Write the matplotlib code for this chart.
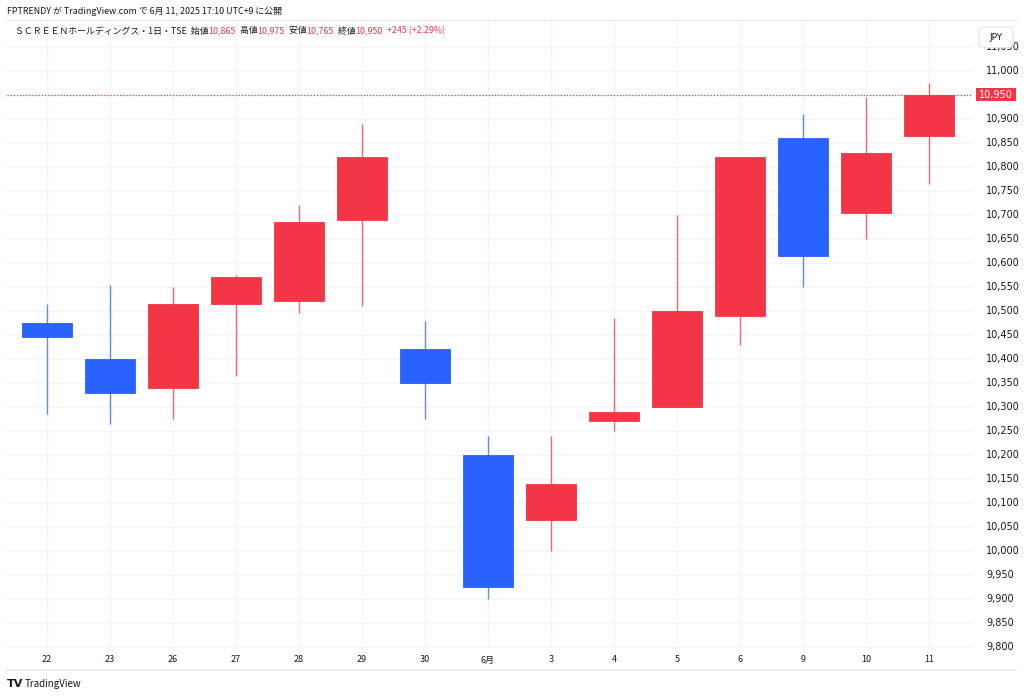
import numpy as np
import matplotlib.pyplot as plt
from matplotlib.patches import Rectangle, FancyBboxPatch

plt.rcParams['font.family'] = ['Noto Sans CJK JP', 'DejaVu Sans']

# daily candles, SCREEN Holdings (TSE)
dates = ['22', '23', '26', '27', '28', '29', '30', '6月', '3', '4', '5', '6', '9', '10', '11']
opens = [10475, 10400, 10340, 10515, 10520, 10690, 10420, 10200, 10065, 10270, 10300, 10490, 10860, 10705, 10865]
highs = [10515, 10555, 10550, 10575, 10720, 10890, 10480, 10240, 10240, 10485, 10700, 10820, 10910, 10945, 10975]
lows = [10285, 10265, 10275, 10365, 10495, 10510, 10275, 9900, 10000, 10250, 10300, 10430, 10550, 10650, 10765]
closes = [10445, 10330, 10515, 10570, 10685, 10820, 10350, 9925, 10140, 10290, 10500, 10820, 10615, 10830, 10950]

price_ticks = np.arange(9800, 11051, 50)

up_col = '#F23645'
dn_col = '#2962FF'
grid_col = '#F3F3F5'
text_col = '#131722'

W, H = 1024, 697
fig = plt.figure(figsize=(W / 100, H / 100), dpi=100)

# main pane in pixel coords: x 7..973, y 20..648
ax = fig.add_axes([7 / W, 1 - 648 / H, (973 - 7) / W, (648 - 20) / H])
ax.set_xlim(-0.635, 14.70)
ax.set_ylim(9798, 11106)

x = np.arange(len(dates))
for i in x:
    o, h, l, c = opens[i], highs[i], lows[i], closes[i]
    col = up_col if c >= o else dn_col
    ax.vlines(i, l, h, color=col, lw=1, alpha=0.75, zorder=3)
    ax.add_patch(Rectangle((i - 0.395, min(o, c)), 0.79, abs(c - o),
                           facecolor=col, edgecolor=col, lw=0.6, zorder=4))

ax.set_yticks(price_ticks)
ax.set_xticks(x)
ax.grid(True, color=grid_col, lw=0.8, zorder=0)
ax.tick_params(length=0, labelleft=False, labelbottom=False)
for s in ax.spines.values():
    s.set_visible(False)

# last price line
ax.axhline(closes[-1], color=up_col, lw=0.9, ls=(0, (1, 1.5)), zorder=2)

# price axis labels
yl = ax.transData.transform((0, closes[-1]))[1]
for p in price_ticks:
    yp = ax.transData.transform((0, p))[1]
    if abs(yp - yl) < 10:
        continue
    fig.text(986 / W, yp / H, f'{p:,}', fontsize=7, color=text_col,
             va='center', ha='left', family='DejaVu Sans', zorder=1)
fig.patches.append(Rectangle((976 / W, yl / H - 6.5 / H), 40 / W, 13 / H,
                             transform=fig.transFigure, facecolor=up_col,
                             edgecolor='none'))
fig.text(996 / W, yl / H, f'{closes[-1]:,}', fontsize=7, color='white',
         va='center', ha='center', family='DejaVu Sans')

# JPY box (drawn over the top tick label)
jpy = FancyBboxPatch((979 / W, 1 - 47.5 / H), 34 / W, 20.5 / H,
                     boxstyle='round,pad=0,rounding_size=0.004',
                     transform=fig.transFigure, facecolor='white',
                     edgecolor='#E0E3EB', lw=0.8, zorder=5)
fig.add_artist(jpy)
fig.text(996 / W, 1 - 37 / H, 'JPY', fontsize=6.5, color=text_col,
         ha='center', va='center', family='DejaVu Sans', zorder=6)

# date labels
for i, d in enumerate(dates):
    xp = ax.transData.transform((i, 0))[0]
    fig.text(xp / W, 1 - 660 / H, d, fontsize=6.5, color=text_col,
             ha='center', va='center')

# frame lines
fig.add_artist(plt.Line2D([7 / W, 1016 / W], [1 - 19.5 / H, 1 - 19.5 / H], color='#E9EAEE', lw=0.8))
fig.add_artist(plt.Line2D([7 / W, 1016 / W], [1 - 670 / H, 1 - 670 / H], color='#E9EAEE', lw=1.2))

# header
fig.text(7 / W, 1 - 11 / H, 'FPTRENDY が TradingView.com で 6月 11, 2025 17:10 UTC+9 に公開',
         fontsize=6.4, color=text_col, va='center')

legend = [('ＳＣＲＥＥＮホールディングス・1日・TSE  始値', text_col), ('10,865', up_col),
          ('  高値', text_col), ('10,975', up_col), ('  安値', text_col), ('10,765', up_col),
          ('  終値', text_col), ('10,950', up_col), ('  +245 (+2.29%)', up_col)]
fig.canvas.draw()
xpos = 15
r = fig.canvas.get_renderer()
for s, col in legend:
    t = fig.text(xpos / W, 1 - 31 / H, s, fontsize=6.4, color=col, va='center')
    xpos += t.get_window_extent(renderer=r).width

# footer logo
fig.text(7 / W, 1 - 684 / H, 'TV', fontsize=8, fontweight='bold', color=text_col,
         va='center', family='DejaVu Sans')
fig.text(25 / W, 1 - 684 / H, 'TradingView', fontsize=7, color=text_col, va='center')

fig.savefig('out.png', dpi=100, facecolor='white')
